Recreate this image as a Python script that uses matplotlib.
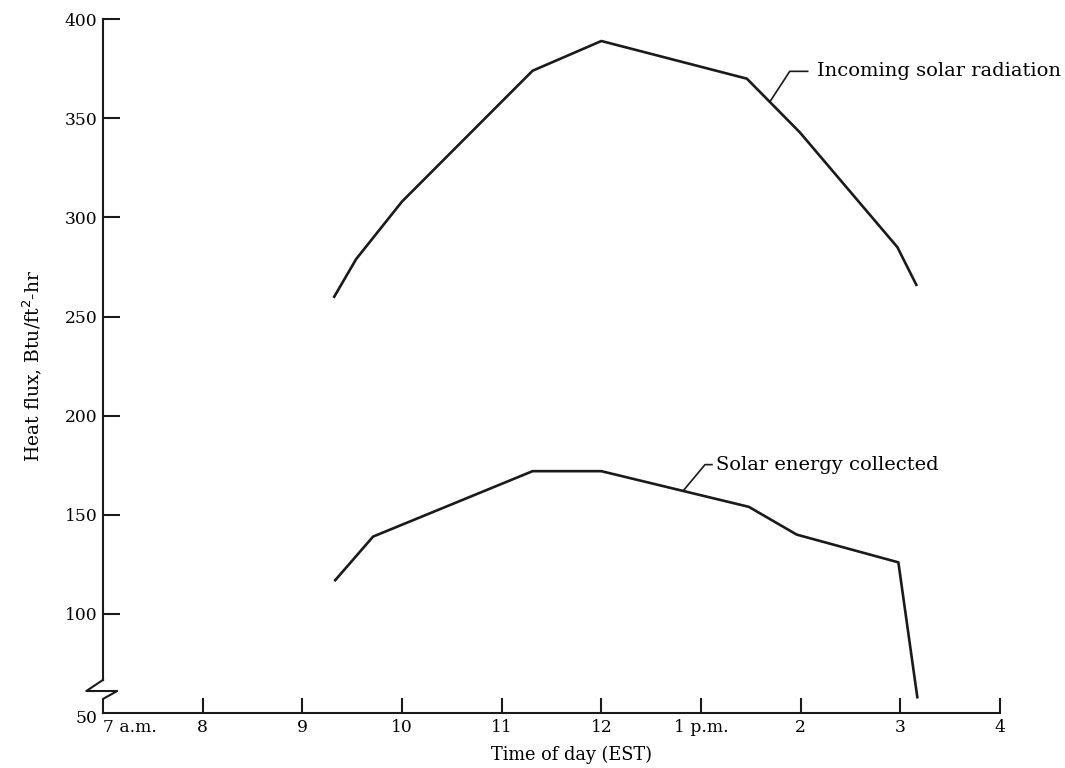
# -*- coding: utf-8 -*-
# Heat flux vs time of day: incoming solar radiation and solar energy collected

import numpy as np
import matplotlib.pyplot as plt
from matplotlib.transforms import ScaledTranslation

# data (hours, 7 = 7 a.m., 13 = 1 p.m.)
incoming_time = [9.32, 9.54, 10.0, 11.31, 12.0, 13.46, 13.99, 14.97, 15.16]
incoming_flux = [260, 279, 308, 374, 389, 370, 343, 285, 266]

collected_time = [9.33, 9.71, 11.31, 12.0, 13.48, 13.96, 14.98, 15.17]
collected_flux = [117, 139, 172, 172, 154, 140, 126, 58]

x_ticks = [7, 8, 9, 10, 11, 12, 13, 14, 15, 16]
x_tick_labels = ["7 a.m.", "8", "9", "10", "11", "12", "1 p.m.", "2", "3", "4"]
y_ticks = [50, 100, 150, 200, 250, 300, 350, 400]

plt.rcParams['font.family'] = ['DejaVu Serif']
FS = 12.3
LC = '#1a1a1a'


def main():
    fig = plt.figure(figsize=(10.65, 7.68), dpi=100)
    ax = fig.add_axes([0.0967, 0.0716, 0.8423, 0.9034])
    ax.set_xlim(7, 16)
    ax.set_ylim(50, 400)

    # curves
    ax.plot(incoming_time, incoming_flux, color=LC, lw=1.9)
    ax.plot(collected_time, collected_flux, color=LC, lw=1.9)

    # spines
    for s in ['top', 'right', 'left']:
        ax.spines[s].set_visible(False)
    ax.spines['bottom'].set_linewidth(1.5)
    ax.spines['bottom'].set_color(LC)

    # y axis line with break near the bottom
    ax.plot([7, 7], [400, 66.7], color=LC, lw=1.5, clip_on=False)
    ax.plot([7, 6.833, 7.143, 7, 7], [66.7, 61.1, 61.1, 57.1, 50],
            color=LC, lw=1.5, clip_on=False)

    # ticks
    ax.set_xticks(x_ticks)
    ax.set_xticklabels(x_tick_labels, fontsize=FS)
    ax.set_yticks(y_ticks)
    ax.set_yticklabels([str(v) for v in y_ticks], fontsize=FS)
    ax.tick_params(axis='x', direction='in', length=11, width=1.5, color=LC, pad=4)
    ax.tick_params(axis='y', direction='in', length=12, width=1.5, color=LC, pad=4)
    ax.xaxis.get_major_ticks()[0].tick1line.set_visible(False)
    ax.get_xticklabels()[0].set_horizontalalignment('left')
    ax.yaxis.get_major_ticks()[0].tick1line.set_visible(False)
    lab50 = ax.get_yticklabels()[0]
    lab50.set_transform(lab50.get_transform() + ScaledTranslation(0, -3 / 100, fig.dpi_scale_trans))

    ax.set_xlabel("Time of day (EST)", fontsize=12.8)
    ax.xaxis.set_label_coords(0.522, -0.047)
    ax.set_ylabel("Heat flux, Btu/ft$^2$-hr", fontsize=13.5)
    ax.yaxis.set_label_coords(-0.066, 0.5)

    # leader lines and labels
    xi = 13.69
    yi = np.interp(xi, incoming_time, incoming_flux)
    ax.plot([xi, 13.89, 14.07], [yi, 373.7, 373.7], color=LC, lw=1.2)
    ax.text(14.16, 373.7, "Incoming solar radiation", fontsize=14, va='center', ha='left')

    xc = 12.82
    yc = np.interp(xc, collected_time, collected_flux)
    ax.plot([xc, 13.04, 13.11], [yc, 175.3, 175.3], color=LC, lw=1.2)
    ax.text(13.15, 175.3, "Solar energy collected", fontsize=14, va='center', ha='left')

    fig.savefig("out.png", dpi=100)


if __name__ == "__main__":
    main()
